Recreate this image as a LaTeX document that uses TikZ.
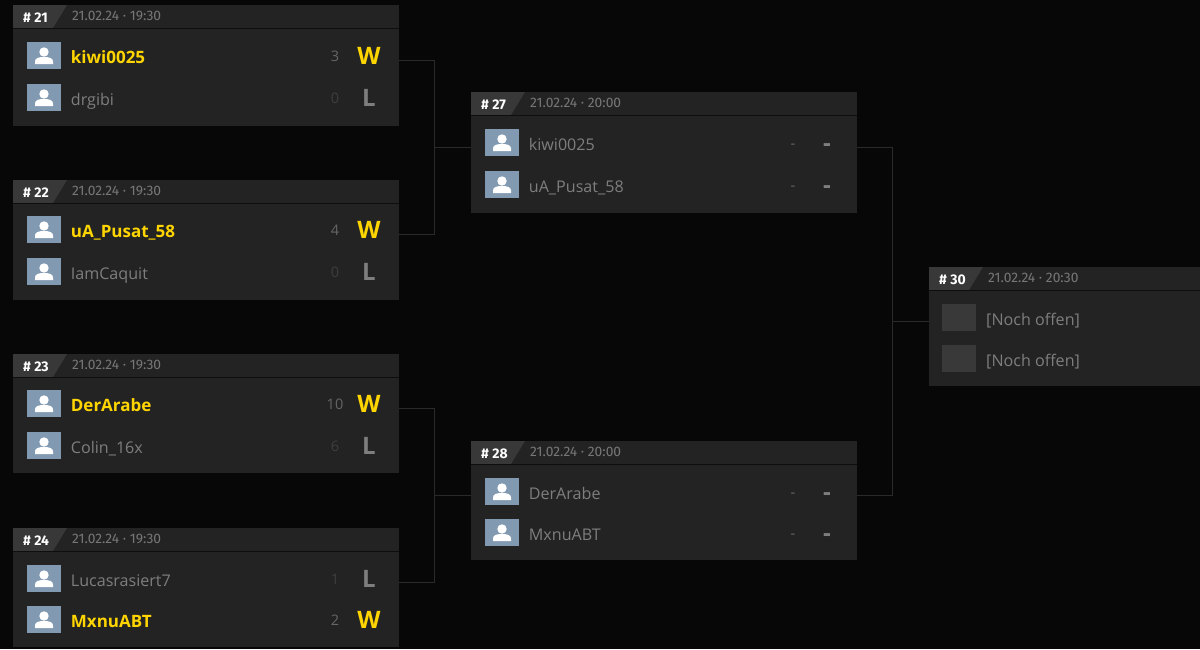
\documentclass[tikz,border=0pt]{standalone}
\usepackage{fontspec}
\setmainfont{Open Sans}
\newfontfamily\headfont{Fira Sans}
\usetikzlibrary{arrows}

\definecolor{pagebg}{HTML}{070707}
\definecolor{cardbg}{HTML}{232323}
\definecolor{tabbg}{HTML}{383838}
\definecolor{sepline}{HTML}{0E0E0E}
\definecolor{linkcol}{HTML}{2A2A2A}
\definecolor{avatarcol}{HTML}{829AB1}
\definecolor{emptycol}{HTML}{393939}
\definecolor{wincol}{HTML}{FFD500}
\definecolor{namecol}{HTML}{7E7E7E}
\definecolor{datecol}{HTML}{777777}
\definecolor{scorehi}{HTML}{666666}
\definecolor{scorelo}{HTML}{3E3E3E}

% card: id, left, top, date, height
\newcommand{\matchcard}[5]{
  \node[card,minimum height=#5pt] (m#1) at (#2,#3) {};
  \fill[tabbg] (m#1.north west) -- ++(54,0) -- ++(-14,23) -- ++(-40,0) -- cycle;
  \draw[sepline] (#2,#3+23) -- (#2+386,#3+23);
  \node[idtext] (id#1) at (#2+10,#3+17) {\# #1};
  \node[datetext] (date#1) at (#2+59,#3+15.7) {#4};
  \coordinate (in#1) at ([yshift=5.5pt]m#1.west);
  \coordinate (out#1) at ([yshift=5.5pt]m#1.east);
}
% avatar with the person on it
\newcommand{\useravatar}[3]{
  \node[avatar] (#1) at (#2,#3) {};
  \begin{scope}[shift={(#1.center)}]
    \fill[white] (0,-3.5) circle (4.7pt);
    \fill[white] (-9,8.5) -- (-9,6) .. controls (-9,2.5) and (-5,1.5) .. (0,1.5) .. controls (5,1.5) and (9,2.5) .. (9,6) -- (9,8.5) -- cycle;
  \end{scope}
}
% player row: name, left, baseline, style, text, score, score style, result, result style
\newcommand{\playerrow}[9]{
  \useravatar{av#1}{#2+31}{#3-7.5}
  \node[#4] (name#1) at (#2+57.7,#3) {#5};
  \node[#7] (score#1) at (#2+322,#3-1.5) {#6};
  \node[#9] (res#1) at (#2+356,#3+1) {#8};
}

\begin{document}
\begin{tikzpicture}[x=1pt,y=-1pt]
\tikzset{card/.style = {anchor=north west,fill=cardbg,minimum width=386pt,inner sep=0pt,outer sep=0pt}}
\tikzset{idtext/.style = {anchor=base west,inner sep=0pt,text=white,font=\headfont\bfseries\fontsize{14}{16}\selectfont}}
\tikzset{datetext/.style = {anchor=base west,inner sep=0pt,text=datecol,font=\headfont\fontsize{13.8}{16}\selectfont}}
\tikzset{avatar/.style = {fill=avatarcol,minimum width=34pt,minimum height=27pt,inner sep=0pt}}
\tikzset{emptyslot/.style = {fill=emptycol,minimum width=34pt,minimum height=27pt,inner sep=0pt}}
\tikzset{winner/.style = {anchor=base west,inner sep=0pt,text=wincol,font=\bfseries\fontsize{17}{20}\selectfont}}
\tikzset{player/.style = {anchor=base west,inner sep=0pt,text=namecol,font=\fontsize{16.1}{18}\selectfont}}
\tikzset{scorewin/.style = {anchor=base,inner sep=0pt,text=scorehi,font=\fontsize{14.5}{16}\selectfont}}
\tikzset{scorelose/.style = {anchor=base,inner sep=0pt,text=scorelo,font=\fontsize{14.5}{16}\selectfont}}
\tikzset{reswin/.style = {anchor=base,inner sep=0pt,text=wincol,font=\bfseries\fontsize{24}{26}\selectfont}}
\tikzset{reslose/.style = {anchor=base,inner sep=0pt,text=namecol,font=\bfseries\fontsize{24}{26}\selectfont}}
\tikzset{link/.style = {draw=linkcol,line width=1pt}}

\useasboundingbox (0,0) rectangle (1200,649);
\clip (0,0) rectangle (1200,649);
\fill[pagebg] (0,0) rectangle (1200,649);

% cards
\matchcard{21}{13}{5}{21.02.24 · 19:30}{121}
\matchcard{22}{13}{180}{21.02.24 · 19:30}{120}
\matchcard{23}{13}{354}{21.02.24 · 19:30}{119}
\matchcard{24}{13}{528}{21.02.24 · 19:30}{119}
\matchcard{27}{471}{92}{21.02.24 · 20:00}{121}
\matchcard{28}{471}{441}{21.02.24 · 20:00}{119}
\matchcard{30}{929}{267}{21.02.24 · 20:30}{119}

% players
\playerrow{a}{13}{63}{winner}{kiwi0025}{3}{scorewin}{W}{reswin}
\playerrow{b}{13}{105}{player}{drgibi}{0}{scorelose}{L}{reslose}
\playerrow{c}{13}{237}{winner}{uA\_Pusat\_58}{4}{scorewin}{W}{reswin}
\playerrow{d}{13}{279}{player}{IamCaquit}{0}{scorelose}{L}{reslose}
\playerrow{e}{13}{411}{winner}{DerArabe}{10}{scorewin}{W}{reswin}
\playerrow{f}{13}{453}{player}{Colin\_16x}{6}{scorelose}{L}{reslose}
\playerrow{g}{13}{586}{player}{Lucasrasiert7}{1}{scorelose}{L}{reslose}
\playerrow{h}{13}{627}{winner}{MxnuABT}{2}{scorewin}{W}{reswin}
\playerrow{i}{471}{150}{player}{kiwi0025}{-}{scorewin}{-}{reslose}
\playerrow{j}{471}{192}{player}{uA\_Pusat\_58}{-}{scorewin}{-}{reslose}
\playerrow{k}{471}{499}{player}{DerArabe}{-}{scorewin}{-}{reslose}
\playerrow{l}{471}{540}{player}{MxnuABT}{-}{scorewin}{-}{reslose}

% open slots
\node[emptyslot] (slota) at (959,317) {};
\node[emptyslot] (slotb) at (959,358) {};
\node[player] (namem) at (986,325) {[Noch offen]};
\node[player] (namen) at (986,366) {[Noch offen]};

%connectors
\coordinate (joina) at (434.5,147);
\coordinate (joinb) at (434.5,495);
\coordinate (joinc) at (892.5,321);
\draw[link] (out21) -| (joina);
\draw[link] (out22) -| (joina);
\draw[link] (joina) -- (in27);
\draw[link] (out23) -| (joinb);
\draw[link] (out24) -| (joinb);
\draw[link] (joinb) -- (in28);
\draw[link] (out27) -| (joinc);
\draw[link] (out28) -| (joinc);
\draw[link] (joinc) -- (in30);
\end{tikzpicture}
\end{document}
